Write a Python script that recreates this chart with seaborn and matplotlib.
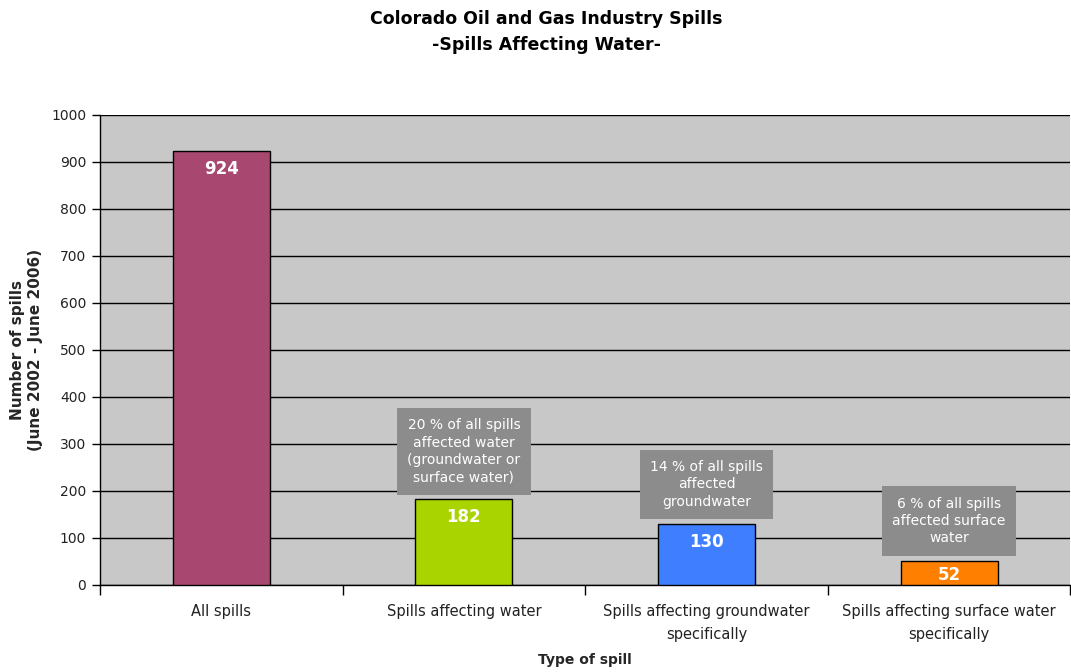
import matplotlib
matplotlib.use("Agg")
import matplotlib.pyplot as plt
import seaborn as sns
import pandas as pd

categories = [
    "All spills",
    "Spills affecting water",
    "Spills affecting groundwater\nspecifically",
    "Spills affecting surface water\nspecifically",
]
spill_counts = [924, 182, 130, 52]
bar_colors = ["#A8476F", "#AAD400", "#3F7FFF", "#FF7F00"]
notes = [
    None,
    "20 % of all spills\naffected water\n(groundwater or\nsurface water)",
    "14 % of all spills\naffected\ngroundwater",
    "6 % of all spills\naffected surface\nwater",
]
y_ticks = list(range(0, 1001, 100))

df = pd.DataFrame({"category": categories, "count": spill_counts})

sns.set_theme(style="white")
plt.rcParams["font.family"] = ["DejaVu Sans"]

fig = plt.figure(figsize=(10.71, 6.72), dpi=100)
ax = fig.add_axes([0.0934, 0.1295, 0.906, 0.6994])

sns.barplot(data=df, x="category", y="count", hue="category",
            palette=bar_colors, saturation=1, width=0.4, edgecolor="black",
            linewidth=1, legend=False, ax=ax, zorder=3)

ax.set_facecolor("#C8C8C8")
ax.set_ylim(0, 1000)
ax.set_xlim(-0.5, len(categories) - 0.5)
ax.set_yticks(y_ticks)
ax.set_yticklabels([str(t) for t in y_ticks], fontsize=10, color="#222222")
ax.yaxis.grid(True, color="black", linewidth=1, zorder=0)
ax.set_axisbelow(True)

# category labels centred, tick marks on category boundaries
ax.set_xticks(range(len(categories)))
ax.set_xticklabels(categories, fontsize=10.5, color="#222222", linespacing=1.6)
ax.tick_params(axis="x", length=0, pad=14)
ax.set_xticks([i - 0.5 for i in range(len(categories) + 1)], minor=True)
ax.tick_params(axis="x", which="minor", length=7, width=1, color="black", direction="out", bottom=True)
ax.tick_params(axis="y", length=6, width=1, color="black", direction="out", left=True, pad=4)

for side in ["top", "right"]:
    ax.spines[side].set_visible(False)
for side in ["left", "bottom"]:
    ax.spines[side].set_color("black")
    ax.spines[side].set_linewidth(1)

ax.set_xlabel("Type of spill", fontsize=10, fontweight="bold", labelpad=8)
ax.set_ylabel("Number of spills\n(June 2002 - June 2006)", fontsize=11,
              fontweight="bold", labelpad=6)

# value labels inside bar tops (kept inside short bars)
for i, v in enumerate(spill_counts):
    ax.text(i, max(v - 38, v * 0.4), str(v), ha="center", va="center",
            color="white", fontsize=12, fontweight="bold", zorder=5)

# grey note boxes above the water-related bars
for i, (v, note) in enumerate(zip(spill_counts, notes)):
    if note is None:
        continue
    ax.annotate(note, (i, v), xytext=(0, 11), textcoords="offset points",
                ha="center", va="bottom", color="white", fontsize=10,
                linespacing=1.3, zorder=6,
                bbox=dict(boxstyle="square,pad=0.75", facecolor="#8C8C8C", edgecolor="none"))

fig.suptitle("Colorado Oil and Gas Industry Spills\n-Spills Affecting Water-",
             x=0.51, y=0.985, fontsize=12.5, fontweight="bold", linespacing=1.55,
             color="black")

fig.savefig("out.png", dpi=100, facecolor="white")
